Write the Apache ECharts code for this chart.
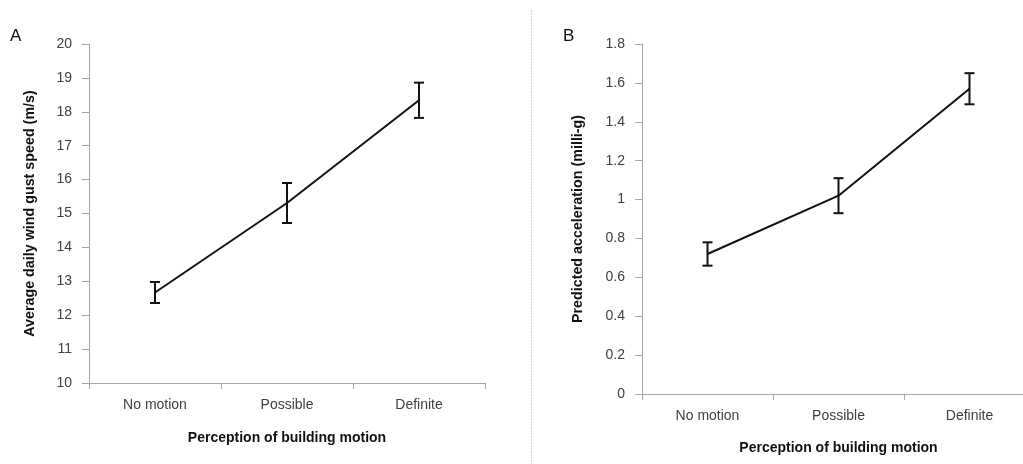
<!DOCTYPE html>
<html>
<head>
<meta charset="utf-8">
<script src="https://cdn.jsdelivr.net/npm/echarts@6/dist/echarts.min.js"></script>
<style>
html,body{margin:0;padding:0;background:#fff;}
#chart{width:1023px;height:464px;}
</style>
</head>
<body>
<div id="chart"></div>
<script>
const categories = ['No motion', 'Possible', 'Definite'];
const gustMean = [12.67, 15.31, 18.34];
const gustErr = [0.31, 0.59, 0.52];
const accelMean = [0.72, 1.02, 1.57];
const accelErr = [0.06, 0.09, 0.08];
const gustTicks = {min: 10, max: 20, interval: 1};
const accelTicks = {min: 0, max: 1.8, interval: 0.2};

const FONT = 'Liberation Sans, Arial, sans-serif';
const AXIS_COLOR = '#a6a6a6';
const LABEL_COLOR = '#404040';

function errSeries(idx, mean, err) {
  return {
    type: 'custom',
    xAxisIndex: idx, yAxisIndex: idx,
    data: mean.map((m, i) => [i, m - err[i], m + err[i]]),
    z: 3,
    renderItem: function (params, api) {
      const lo = api.coord([api.value(0), api.value(1)]);
      const hi = api.coord([api.value(0), api.value(2)]);
      const hw = 5;
      const style = {stroke: '#111', lineWidth: 2, fill: null};
      return {
        type: 'group',
        children: [
          {type: 'line', shape: {x1: lo[0], y1: lo[1], x2: hi[0], y2: hi[1]}, style: style},
          {type: 'line', shape: {x1: lo[0] - hw, y1: lo[1], x2: lo[0] + hw, y2: lo[1]}, style: style},
          {type: 'line', shape: {x1: hi[0] - hw, y1: hi[1], x2: hi[0] + hw, y2: hi[1]}, style: style}
        ]
      };
    }
  };
}

function xAxis(idx, gap) {
  return {
    type: 'category', gridIndex: idx, data: categories, boundaryGap: true,
    name: 'Perception of building motion', nameLocation: 'middle', nameGap: gap,
    nameTextStyle: {fontFamily: FONT, fontSize: 14, fontWeight: 'bold', color: '#111'},
    axisLine: {lineStyle: {color: AXIS_COLOR, width: 1}},
    axisTick: {show: true, length: 6, alignWithLabel: false, lineStyle: {color: AXIS_COLOR}},
    axisLabel: {fontFamily: FONT, fontSize: 14, color: LABEL_COLOR, margin: 15},
    splitLine: {show: false}
  };
}

function yAxis(idx, name, ticks, gap) {
  return {
    type: 'value', gridIndex: idx, min: ticks.min, max: ticks.max, interval: ticks.interval,
    name: name, nameLocation: 'middle', nameGap: gap, nameRotate: 90,
    nameTextStyle: {fontFamily: FONT, fontSize: 14.3, fontWeight: 'bold', color: '#111'},
    axisLine: {show: true, lineStyle: {color: AXIS_COLOR, width: 1}},
    axisTick: {show: true, length: 7, lineStyle: {color: AXIS_COLOR}},
    axisLabel: {fontFamily: FONT, fontSize: 14, color: LABEL_COLOR, margin: 17},
    splitLine: {show: false}
  };
}

const chart = echarts.init(document.getElementById('chart'));
chart.setOption({
  animation: false,
  backgroundColor: '#fff',
  grid: [
    {left: 89, top: 44, width: 396, bottom: 81, containLabel: false, outerBoundsMode: 'none'},
    {left: 642, top: 44, width: 393, bottom: 70, containLabel: false, outerBoundsMode: 'none'}
  ],
  xAxis: [xAxis(0, 48), xAxis(1, 47)],
  yAxis: [
    yAxis(0, 'Average daily wind gust speed (m/s)', gustTicks, 52),
    yAxis(1, 'Predicted acceleration (milli-g)', accelTicks, 57)
  ],
  graphic: [
    {type: 'text', left: 10, top: 28, style: {text: 'A', font: '17px ' + FONT, fill: '#111'}},
    {type: 'text', left: 563, top: 28, style: {text: 'B', font: '17px ' + FONT, fill: '#111'}},
    {type: 'line', shape: {x1: 531.5, y1: 10, x2: 531.5, y2: 464},
     style: {stroke: '#c6d9f1', lineWidth: 1, lineDash: [2, 1]}}
  ],
  series: [
    {type: 'line', xAxisIndex: 0, yAxisIndex: 0, data: gustMean, symbol: 'none',
     lineStyle: {color: '#111', width: 2}, z: 2},
    errSeries(0, gustMean, gustErr),
    {type: 'line', xAxisIndex: 1, yAxisIndex: 1, data: accelMean, symbol: 'none',
     lineStyle: {color: '#111', width: 2}, z: 2},
    errSeries(1, accelMean, accelErr)
  ]
});
</script>
</body>
</html>
